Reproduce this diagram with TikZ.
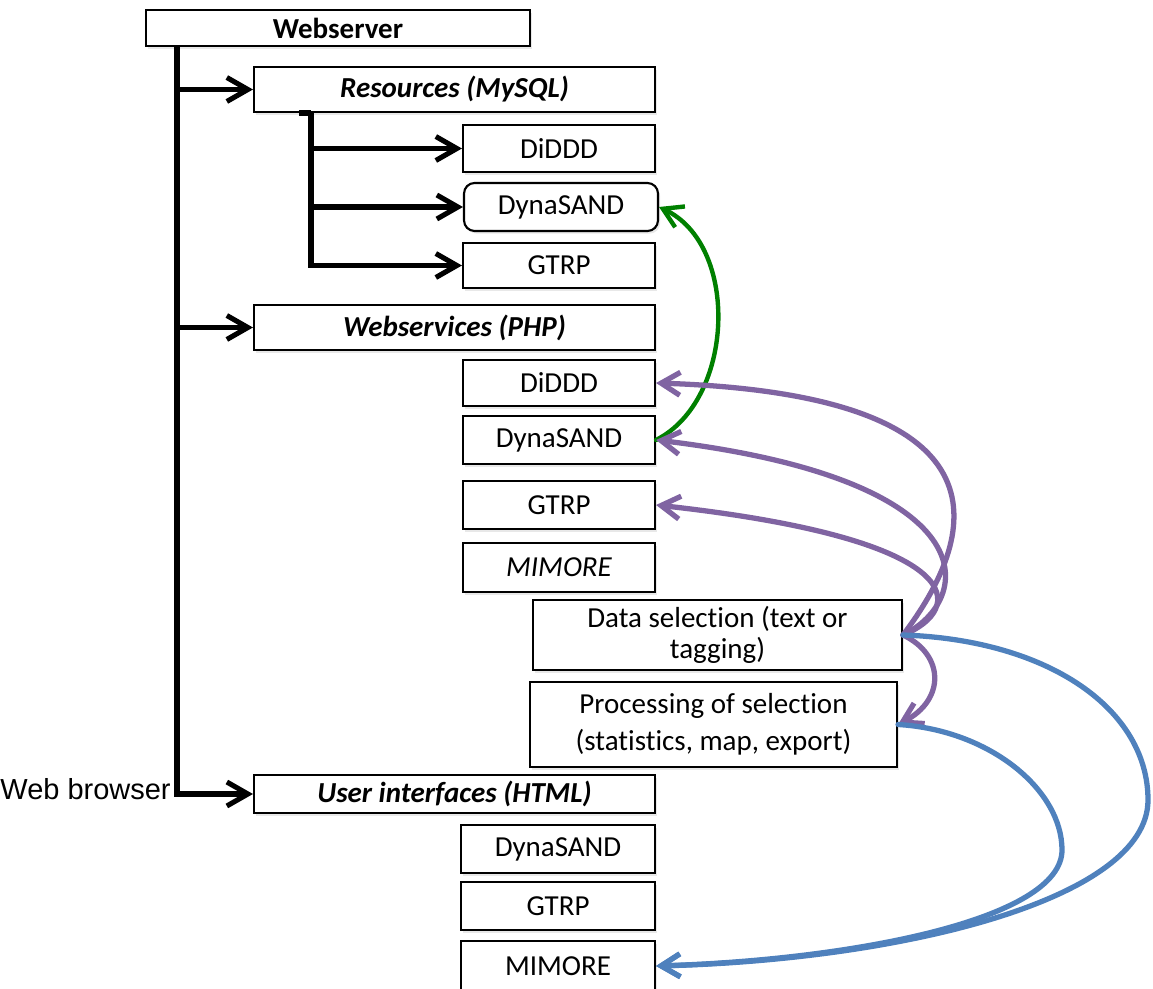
\documentclass[tikz,border=0pt]{standalone}
\usepackage{fontspec}
\setmainfont{Carlito}[Ligatures=NoCommon]
\newfontfamily\arialfont{Liberation Sans}
\usetikzlibrary{arrows.meta,shadows}
\definecolor{linkgreen}{RGB}{0,128,0}
\definecolor{linkpurple}{RGB}{128,100,162}
\definecolor{linkblue}{RGB}{79,129,189}

\begin{document}
\begin{tikzpicture}[x=0.02cm,y=-0.02cm,
    box/.style={draw,line width=1.2pt,fill=white,inner sep=0pt,align=center,
        font=\fontsize{16.5}{17.5}\selectfont,
        drop shadow={shadow xshift=1.2pt,shadow yshift=-1.5pt,fill=black!18}},
    wide/.style={box,minimum width=8.02cm},
    small/.style={box,minimum width=3.84cm},
    link/.style={line width=2.9pt,-{Straight Barb[length=4.2mm,width=4.8mm]}},
    curve/.style={line width=3pt,line cap=round,-{Straight Barb[length=3.8mm,width=4.6mm]}}]
    \useasboundingbox (0,0) rectangle (1153,989);
    % boxes
    \node[box,minimum width=7.68cm,minimum height=0.72cm,font=\fontsize{16.5}{17.5}\selectfont\bfseries] (web) at (338,28) {Webserver};
    \node[wide,minimum height=0.9cm,font=\fontsize{16.5}{17.5}\selectfont\bfseries\itshape] (res) at (454.5,89.5) {Resources (MySQL)};
    \node[small,minimum height=0.94cm] (rdiddd) at (559,148.5) {DiDDD};
    \node[small,minimum width=3.88cm,minimum height=0.96cm,rounded corners=6pt] (rdyna) at (561,207) {DynaSAND};
    \node[small,minimum height=0.9cm] (rgtrp) at (559,265.5) {GTRP};
    \node[wide,minimum height=0.9cm,font=\fontsize{16.5}{17.5}\selectfont\bfseries\itshape] (ws) at (454.5,327.5) {Webservices (PHP)};
    \node[small,minimum height=0.92cm] (wdiddd) at (559,383) {DiDDD};
    \node[small,minimum height=0.96cm] (wdyna) at (559,440) {DynaSAND};
    \node[small,minimum height=0.96cm] (wgtrp) at (559,505) {GTRP};
    \node[small,minimum height=0.98cm,font=\fontsize{16.5}{17.5}\selectfont\itshape] (wmim) at (559,567.5) {MIMORE};
    \node[box,minimum width=7.38cm,minimum height=1.4cm] (sel) at (717.5,635) {Data selection (text or\\tagging)};
    \node[box,minimum width=7.34cm,minimum height=1.7cm,font=\fontsize{16.5}{21}\selectfont] (proc) at (713.5,724.5) {Processing of selection\\(statistics, map, export)};
    \node[wide,minimum height=0.76cm,font=\fontsize{16.5}{17.5}\selectfont\bfseries\itshape] (ui) at (454.5,794) {User interfaces (HTML)};
    \node[small,minimum width=3.88cm,minimum height=0.96cm] (udyna) at (558,849) {DynaSAND};
    \node[small,minimum width=3.88cm,minimum height=0.96cm] (ugtrp) at (558,906) {GTRP};
    \node[small,minimum width=3.88cm,minimum height=1cm] (umim) at (558,966) {MIMORE};
    \node[anchor=east,inner sep=0pt,font=\arialfont\fontsize{16.5}{18}\selectfont] (browser) at (171,789) {Web browser};
    % tree
    \coordinate (wtrunk) at ([xshift=0.64cm]web.south west);
    \draw[link] (wtrunk) |- (res.west);
    \draw[link] (wtrunk) |- (ws.west);
    \draw[link] (wtrunk) |- (ui.west);
    \coordinate (rtrunk) at ([xshift=1.16cm]res.south west);
    \draw[line width=2.9pt] ([xshift=0.92cm]res.south west) -- (rtrunk);
    \draw[link] (rtrunk) |- (rdiddd.west);
    \draw[link] (rtrunk) |- (rdyna.west);
    \draw[link] (rtrunk) |- (rgtrp.west);
    % curved links
    \draw[curve,line width=2.5pt,linkgreen] (wdyna.east) .. controls (735,400) and (740,245) .. (rdyna.east);
    \draw[curve,linkpurple] (sel.east) .. controls (975,540) and (1024,395) .. (wdiddd.east);
    \draw[curve,linkpurple] (sel.east) .. controls (975,600) and (990,480) .. (wdyna.east);
    \draw[curve,linkpurple] (sel.east) .. controls (965,610) and (975,540) .. (wgtrp.east);
    \draw[curve,linkpurple] (sel.east) .. controls (945,655) and (945,700) .. (proc.east);
    \draw[curve,linkblue] (sel.east) .. controls (1050,640) and (1148,710) .. (1148,800)
        .. controls (1148,900) and (900,960) .. (umim.east);
    \draw[curve,linkblue] (proc.east) .. controls (990,730) and (1062,790) .. (1062,850)
        .. controls (1062,920) and (850,960) .. (umim.east);
\end{tikzpicture}
\end{document}
